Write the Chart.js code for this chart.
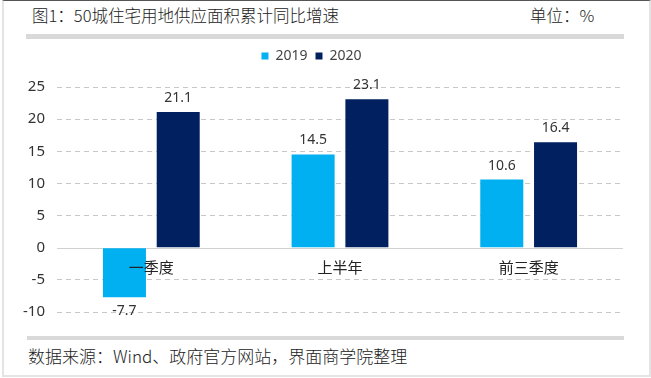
<!DOCTYPE html>
<html>
<head>
<meta charset="utf-8">
<script src="https://cdn.jsdelivr.net/npm/chart.js@4.4.1/dist/chart.umd.min.js"></script>
<style>
  html, body { margin: 0; padding: 0; background: #fff; }
  body { width: 651px; height: 378px; position: relative; overflow: hidden;
         font-family: "Noto Sans CJK SC", "Noto Sans", sans-serif; color: #222; }
  .frame { position: absolute; left: 2px; top: 0; width: 645px; height: 374px;
           border-left: 2px solid #e4e4e4; border-right: 2px solid #e4e4e4; border-bottom: 2px solid #e4e4e4; border-top: 1px solid #555; }
  .title { position: absolute; left: 32px; top: 3px; font-size: 16.5px; font-weight: 300; }
  .unit { position: absolute; left: 530px; top: 3px; font-size: 16.5px; font-weight: 300; }
  .bar { position: absolute; background: #d9d9d9; }
  .source { position: absolute; left: 28px; top: 343px; font-size: 17px; font-weight: 300; }
  #wrap { position: absolute; left: 0; top: 41px; width: 651px; height: 292px; }
</style>
</head>
<body>
<div class="frame"></div>
<div class="title">图1：50城住宅用地供应面积累计同比增速</div>
<div class="unit">单位：%</div>
<div class="bar" style="left:26px; width:598px; top:34px; height:5px"></div>
<div class="bar" style="left:27px; width:597px; top:336px; height:4px"></div>
<div class="source">数据来源：Wind、政府官方网站，界面商学院整理</div>
<div id="wrap"><canvas id="chart"></canvas></div>
<script>
// categories and series
const periods = ['一季度', '上半年', '前三季度'];
const growth2019 = [-7.7, 14.5, 10.6];
const growth2020 = [21.1, 23.1, 16.4];
const seriesNames = ['2019', '2020'];

// extra room between legend and plot
const legendGap = {
    id: 'legendGap',
    beforeInit(chart) {
        const fit = chart.legend.fit;
        chart.legend.fit = function () {
            fit.bind(chart.legend)();
            this.height += 14;
        };
    }
};

// solid line at zero
const zeroLine = {
    id: 'zeroLine',
    beforeDatasetsDraw(chart) {
        const { ctx, chartArea, scales } = chart;
        const y = Math.round(scales.y.getPixelForValue(0)) + 0.5;
        ctx.save();
        ctx.strokeStyle = '#d0d0d0';
        ctx.lineWidth = 1;
        ctx.beginPath();
        ctx.moveTo(chartArea.left, y);
        ctx.lineTo(chartArea.right, y);
        ctx.stroke();
        ctx.restore();
    }
};

// value labels and category names, drawn on top of the bars
const barText = {
    id: 'barText',
    afterDatasetsDraw(chart) {
        const ctx = chart.ctx;
        ctx.save();
        ctx.font = '14px "Noto Sans", sans-serif';
        ctx.fillStyle = '#333';
        ctx.textAlign = 'center';
        chart.data.datasets.forEach((ds, i) => {
            chart.getDatasetMeta(i).data.forEach((bar, j) => {
                const v = ds.data[j];
                if (v >= 0) {
                    ctx.textBaseline = 'bottom';
                    ctx.fillText(v.toFixed(1), bar.x, bar.y - 7);
                } else {
                    ctx.textBaseline = 'top';
                    ctx.fillText(v.toFixed(1), bar.x, bar.y + 7);
                }
            });
        });
        const xs = chart.scales.x;
        const y0 = chart.scales.y.getPixelForValue(0);
        ctx.font = '15px "Noto Sans CJK SC", sans-serif';
        ctx.fillStyle = '#222';
        ctx.textBaseline = 'top';
        chart.data.labels.forEach((lab, i) => {
            ctx.fillText(lab, xs.getPixelForTick(i), y0 + 12);
        });
        ctx.restore();
    }
};

new Chart(document.getElementById('chart'), {
    type: 'bar',
    data: {
        labels: periods,
        datasets: [
            { label: seriesNames[0], data: growth2019, backgroundColor: '#00b0f0' },
            { label: seriesNames[1], data: growth2020, backgroundColor: '#002060' }
        ]
    },
    options: {
        responsive: true,
        maintainAspectRatio: false,
        animation: false,
        categoryPercentage: 0.57,
        barPercentage: 0.8,
        layout: { padding: { left: 0, right: 28, top: 0, bottom: 7 } },
        plugins: {
            legend: {
                position: 'top',
                labels: {
                    boxWidth: 7, boxHeight: 7, padding: 8,
                    font: { size: 14, family: '"Noto Sans", sans-serif' }, color: '#444'
                }
            },
            tooltip: { enabled: false }
        },
        scales: {
            x: {
                position: { y: 0 },
                grid: { display: false, drawTicks: false },
                border: { display: false },
                ticks: { display: false }
            },
            y: {
                min: -10, max: 25,
                ticks: { stepSize: 5, padding: 12, font: { size: 15, family: '"Noto Sans", sans-serif' }, color: '#333' },
                grid: {
                    drawTicks: false,
                    lineWidth: 1,
                    color: ctx => ctx.tick && ctx.tick.value === 0 ? 'rgba(0,0,0,0)' : '#c8c8c8'
                },
                border: { display: false, dash: [5, 4] },
                afterFit(scale) { scale.width = 57; }
            }
        }
    },
    plugins: [legendGap, zeroLine, barText]
});
</script>
</body>
</html>
